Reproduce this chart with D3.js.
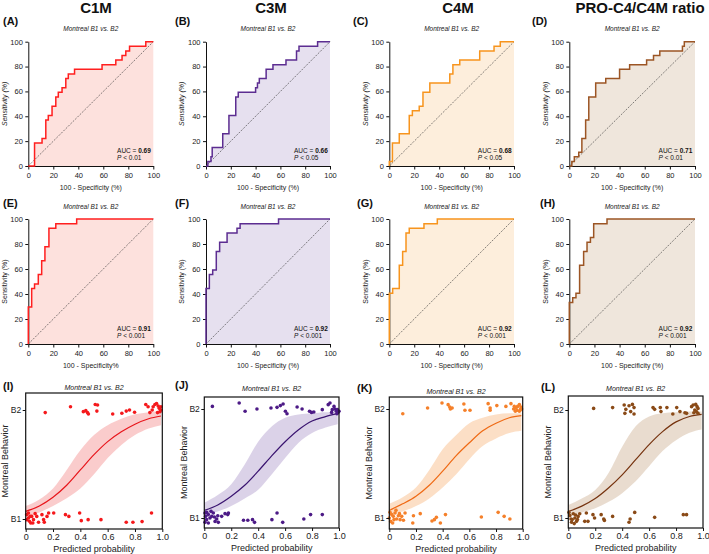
<!DOCTYPE html>
<html>
<head>
<meta charset="utf-8">
<script src="https://cdn.jsdelivr.net/npm/d3@7"></script>
<style>
  body { margin: 0; background: #fff; }
  svg { font-family: "Liberation Sans", Arial, sans-serif; }
</style>
</head>
<body>
<svg id="chart" width="709" height="554"></svg>
<script>
// ---- data ----
const markers = ["C1M", "C3M", "C4M", "PRO-C4/C4M ratio"];
const subtitle = "Montreal B1 vs. B2";
const sensTicks = [0, 20, 40, 60, 80, 100];
const probTicks = [0, 0.2, 0.4, 0.6, 0.8, 1.0];
const outcomeLabels = ["B1", "B2"];

// ROC, row 1 (step curves: at each fpr the sensitivity rises to tpr)
const fprA = [0, 5, 11, 14, 16, 19, 22, 24, 27, 30, 32, 37, 59, 70, 75, 78, 81, 94, 100];
const tprA = [0, 18.5, 22.2, 37, 40.7, 48.1, 55.6, 59.3, 63, 70.4, 74.1, 77.8, 81.5, 85.2, 88.9, 92.6, 96.3, 100, 100];
const fprB = [0, 1.5, 4, 5, 13.5, 18.5, 24, 26, 40, 41.5, 43, 48.5, 54, 64.5, 73, 75, 90, 100];
const tprB = [0, 3.7, 7.4, 14.8, 25.9, 40.7, 55.6, 59.3, 63, 66.7, 70.4, 77.8, 81.5, 85.2, 92.6, 96.3, 100, 100];
const fprC = [0, 0, 2.5, 8, 16, 18.5, 24, 27, 32.5, 48.5, 51, 56.5, 72.5, 84, 89, 100];
const tprC = [0, 3.7, 18.5, 25.9, 40.7, 44.4, 48.1, 59.3, 66.7, 74.1, 81.5, 85.2, 92.6, 96.3, 100, 100];
const fprD = [0, 2, 4, 7.5, 10, 13, 15.5, 21, 29, 40, 48, 61.5, 67, 72, 90, 91.5, 100];
const tprD = [0, 3.7, 7.4, 11.1, 22.2, 37, 55.6, 66.7, 70.4, 77.8, 81.5, 85.2, 88.9, 92.6, 96.3, 100, 100];

// ROC, row 2
const fprE = [0, 0, 2.7, 5, 8, 10.7, 13.3, 16.5, 22, 38.7, 100];
const tprE = [0, 29.6, 44.4, 48.1, 55.6, 66.7, 77.8, 92.6, 96.3, 100, 100];
const fprF = [0, 0, 2.7, 5.4, 8.3, 11, 17, 25, 27.5, 58.5, 100];
const tprF = [0, 44.4, 55.6, 59.3, 74.1, 81.5, 88.9, 92.6, 96.3, 100, 100];
const fprG = [0, 0, 2.7, 8, 10.7, 13.4, 16, 27.8, 38.5, 100];
const tprG = [0, 40.7, 44.4, 63, 74.1, 88.9, 92.6, 96.3, 100, 100];
const fprH = [0, 0, 2.7, 5.3, 8.2, 11.4, 14.1, 16.8, 19.4, 30, 100];
const tprH = [0, 33.3, 37, 40.7, 63, 74.1, 81.5, 85.2, 96.3, 100, 100];

const aucValues = ["0.69", "0.66", "0.68", "0.71", "0.91", "0.92", "0.92", "0.92"];
const pValues = ["< 0.01", "< 0.05", "< 0.05", "< 0.01", "< 0.001", "< 0.001", "< 0.001", "< 0.001"];

// logistic fits, row 3 (read at these probabilities)
const fitX = [0, 0.1, 0.2, 0.3, 0.4, 0.5, 0.6, 0.7, 0.8, 0.9, 0.99];
const fitI = [0.07, 0.12, 0.2, 0.31, 0.45, 0.59, 0.71, 0.80, 0.87, 0.92, 0.945];
const lowI = [0.02, 0.06, 0.12, 0.19, 0.28, 0.41, 0.56, 0.68, 0.77, 0.83, 0.86];
const highI = [0.12, 0.18, 0.28, 0.45, 0.63, 0.77, 0.86, 0.92, 0.96, 0.98, 0.99];
const fitJ = [0.07, 0.12, 0.2, 0.3, 0.43, 0.57, 0.70, 0.81, 0.89, 0.93, 0.96];
const lowJ = [0.03, 0.06, 0.11, 0.18, 0.26, 0.40, 0.55, 0.69, 0.78, 0.83, 0.86];
const highJ = [0.14, 0.21, 0.31, 0.49, 0.70, 0.84, 0.92, 0.95, 0.96, 0.97, 0.97];
const fitK = [0.07, 0.13, 0.2, 0.3, 0.43, 0.57, 0.69, 0.80, 0.87, 0.92, 0.94];
const lowK = [0.03, 0.06, 0.11, 0.18, 0.28, 0.40, 0.54, 0.66, 0.73, 0.78, 0.80];
const highK = [0.13, 0.19, 0.28, 0.44, 0.63, 0.76, 0.87, 0.92, 0.95, 0.96, 0.96];
const fitL = [0.06, 0.11, 0.18, 0.28, 0.40, 0.54, 0.68, 0.80, 0.89, 0.94, 0.96];
const lowL = [0.02, 0.05, 0.09, 0.15, 0.23, 0.34, 0.48, 0.62, 0.72, 0.79, 0.82];
const highL = [0.12, 0.18, 0.26, 0.42, 0.66, 0.85, 0.94, 0.97, 0.98, 0.985, 0.985];

// jittered patient points (x = predicted probability, y = outcome 0/1 + jitter)
const dotsIx = [0.143, 0.328, 0.422, 0.44, 0.452, 0.459, 0.509, 0.526, 0.521, 0.637, 0.704, 0.736, 0.76, 0.797, 0.879, 0.909, 0.926, 0.946, 0.958, 0.97, 0.978, 0.983, 0.965, 0.99, 0.933, 0.896, 0.99,
  0.007, 0.02, 0.027, 0.037, 0.007, 0.044, 0.057, 0.02, 0.069, 0.081, 0.052, 0.032, 0.094, 0.119, 0.131, 0.136, 0.156, 0.168, 0.205, 0.291, 0.316, 0.395, 0.407, 0.457, 0.551, 0.736, 0.785, 0.852, 0.921];
const dotsIy = [0.976, 1.03, 0.985, 0.994, 0.976, 0.963, 1.05, 1.046, 0.99, 0.963, 0.97, 0.99, 1.0, 0.98, 1.05, 0.976, 1.0, 1.05, 1.06, 1.036, 1.015, 0.985, 0.976, 1.03, 1.03, 1.03, 1.0,
  0.04, 0.009, -0.021, -0.037, -0.006, 0.024, -0.006, 0.055, 0.049, 0.024, -0.037, 0.024, -0.03, 0.04, -0.006, -0.03, 0.024, 0.055, 0.055, 0.04, 0.024, 0.055, -0.015, -0.006, -0.006, -0.03, -0.03, -0.024, 0.055];

const dotsJx = [0.06, 0.259, 0.303, 0.391, 0.495, 0.54, 0.565, 0.585, 0.602, 0.614, 0.689, 0.726, 0.781, 0.796, 0.813, 0.876, 0.92, 0.933, 0.95, 0.945, 0.97, 0.98, 0.988, 0.993, 0.985, 1.0, 0.963,
  0.005, 0.01, 0.017, 0.005, 0.03, 0.042, 0.055, 0.067, 0.08, 0.092, 0.03, 0.104, 0.05, 0.075, 0.129, 0.154, 0.174, 0.179, 0.291, 0.323, 0.358, 0.373, 0.502, 0.54, 0.582, 0.739, 0.789, 0.876, 0.1, 0.017];
const dotsJy = [1.024, 1.055, 0.979, 1.0, 1.009, 1.015, 1.031, 1.046, 0.979, 0.957, 1.018, 1.0, 0.979, 0.969, 0.972, 0.994, 1.04, 1.055, 0.994, 0.969, 1.0, 0.979, 0.994, 0.969, 0.957, 0.979, 1.024,
  0.046, 0.015, -0.015, -0.04, 0.031, 0, 0.015, 0.046, -0.031, -0.009, -0.046, -0.04, 0.061, 0.009, 0.015, 0.04, 0.031, 0.046, -0.021, -0.021, -0.015, -0.04, -0.015, 0.046, -0.04, -0.009, 0.031, 0.031, 0.021, 0.052];

const dotsKx = [0.101, 0.287, 0.395, 0.441, 0.453, 0.458, 0.471, 0.559, 0.567, 0.605, 0.741, 0.756, 0.756, 0.806, 0.874, 0.912, 0.932, 0.95, 0.962, 0.975, 0.982, 0.987, 0.975, 0.957, 0.937, 0.992, 0.945,
  0.005, 0.018, 0, 0.01, 0.03, 0.043, 0.055, 0.068, 0.081, 0.025, 0.076, 0.093, 0.106, 0.118, 0.181, 0.176, 0.232, 0.32, 0.338, 0.353, 0.383, 0.421, 0.69, 0.816, 0.861, 0.904, 0.05, 0.035];
const dotsKy = [0.957, 1.009, 1.055, 1.04, 1.018, 1.0, 1.009, 1.046, 0.988, 0.988, 1.049, 1.009, 0.988, 1.031, 1.024, 1.049, 1.0, 1.009, 1.024, 1.04, 0.994, 1.018, 0.979, 0.988, 1.024, 1.0, 0.979,
  0.052, 0.031, 0, -0.031, 0.015, 0.046, -0.009, 0.021, -0.015, -0.046, 0.04, 0.015, -0.021, 0.046, 0.021, -0.046, 0.04, -0.028, -0.015, 0.006, -0.046, 0.031, 0.009, 0.052, 0.015, -0.009, 0.07, -0.015];

const dotsLx = [0.188, 0.329, 0.415, 0.42, 0.427, 0.451, 0.476, 0.488, 0.463, 0.488, 0.629, 0.641, 0.683, 0.688, 0.732, 0.776, 0.805, 0.829, 0.866, 0.878, 0.915, 0.927, 0.946, 0.956, 0.939, 0.951, 0.963, 0.932, 0.963,
  0.005, 0.012, 0.02, 0.024, 0.037, 0.049, 0.061, 0.044, 0.073, 0.068, 0.085, 0.122, 0.146, 0.134, 0.183, 0.195, 0.244, 0.263, 0.268, 0.329, 0.451, 0.459, 0.493, 0.641, 0.854, 0.878, 0.029, 0.054];
const dotsLy = [1.015, 1.022, 1.046, 0.969, 1.006, 1.04, 1.052, 1.022, 0.985, 0.963, 1.022, 1.006, 1.022, 0.985, 1.022, 0.963, 1.022, 0.985, 0.975, 0.969, 1.031, 1.046, 1.052, 1.031, 1.0, 0.985, 0.969, 0.975, 1.015,
  0.052, 0.022, -0.009, -0.04, 0.04, 0, -0.031, -0.052, 0.015, -0.015, 0.04, -0.031, -0.031, 0.046, 0.031, 0, 0.031, -0.009, -0.022, 0.015, -0.04, -0.009, 0.052, 0.006, 0.031, 0.031, -0.015, 0.028];

// ---- styling ----
const lineColors = ["#ff1f1f", "#5c2d91", "#f7941d", "#9c5524"];
const rocFills = ["#fde1dd", "#e6e0ef", "#fdeedc", "#efe6dc"];
const dotColors = ["#f5191c", "#4c1a86", "#f5802a", "#8a4a17"];
const fitColors = ["#e8151b", "#3a1470", "#ef6a15", "#76330f"];
const bandColors = ["#f9c6c6", "#d7cde6", "#fcdcc0", "#e7d8ca"];

const svg = d3.select("#chart");

// column geometry
const rocCols = [[28.3, 153.3], [206, 330], [389.3, 514], [569.3, 695]];
const rocRows = [
  { top: 41.7, bottom: 166, letterY: 25, subY: 31, italicY: true },
  { top: 219, bottom: 344, letterY: 207, subY: 208.5, italicY: false }
];
const letterX = [[3, 175, 353, 532], [3, 175, 357, 540], [3, 175, 357, 541]];
const rocLetters = [["(A)", "(B)", "(C)", "(D)"], ["(E)", "(F)", "(G)", "(H)"]];
const rocXLabels = [
  ["100 - Specificity (%)", "100 - Specificity (%)", "100 - Specificity (%)", "100 - Specificity (%)"],
  ["100 - Specificity%", "100 - Specificity (%)", "100 - Specificity (%)", "100 - Specificity (%)"]
];
const rocData = [
  [[fprA, tprA], [fprB, tprB], [fprC, tprC], [fprD, tprD]],
  [[fprE, tprE], [fprF, tprF], [fprG, tprG], [fprH, tprH]]
];

// column titles
const titleX = [96, 271, 458, 640];
markers.forEach((m, i) => {
  svg.append("text").attr("x", titleX[i]).attr("y", 12.5)
    .attr("text-anchor", "middle").attr("font-size", 15).attr("font-weight", "bold")
    .attr("fill", "#111").text(m);
});

function styleAxis(g, size) {
  g.select(".domain").attr("stroke", "#111").attr("stroke-width", 1);
  g.selectAll(".tick line").attr("stroke", "#111").attr("stroke-width", 1);
  g.selectAll(".tick text").attr("fill", "#222").attr("font-size", size);
}

function drawRoc(r, c) {
  const row = rocRows[r];
  const [x0, x1] = rocCols[c];
  const [fpr, tpr] = rocData[r][c];
  const pts = fpr.map((f, i) => [f, tpr[i]]);
  const g = svg.append("g");

  const x = d3.scaleLinear().domain([0, 100]).range([x0, x1]);
  const y = d3.scaleLinear().domain([0, 100]).range([row.bottom, row.top]);

  g.append("path").datum(pts)
    .attr("fill", rocFills[c])
    .attr("d", d3.area().curve(d3.curveStepAfter).x(d => x(d[0])).y0(y(0)).y1(d => y(d[1])));

  g.append("line")
    .attr("x1", x(0)).attr("y1", y(0)).attr("x2", x(100)).attr("y2", y(100))
    .attr("stroke", "#333").attr("stroke-width", 0.6).attr("stroke-dasharray", "2,1.3");

  const gx = g.append("g").attr("transform", `translate(0,${row.bottom})`)
    .call(d3.axisBottom(x).tickValues(sensTicks).tickSize(3.5).tickPadding(3.5).tickSizeOuter(0));
  styleAxis(gx, 7.5);
  const gy = g.append("g").attr("transform", `translate(${x0},0)`)
    .call(d3.axisLeft(y).tickValues(sensTicks).tickSize(3).tickPadding(2.5).tickSizeOuter(0));
  styleAxis(gy, 7.5);

  g.append("path").datum(pts)
    .attr("fill", "none").attr("stroke", lineColors[c]).attr("stroke-width", 1.5)
    .attr("stroke-linejoin", "miter")
    .attr("d", d3.line().curve(d3.curveStepAfter).x(d => x(d[0])).y(d => y(d[1])));

  // labels
  g.append("text").attr("x", letterX[r][c]).attr("y", row.letterY)
    .attr("font-size", 11).attr("font-weight", "bold").attr("fill", "#111").text(rocLetters[r][c]);
  g.append("text").attr("x", (x0 + x1) / 2).attr("y", row.subY)
    .attr("text-anchor", "middle").attr("font-size", 6.5).attr("font-style", "italic")
    .attr("fill", "#222").text(subtitle);
  g.append("text").attr("x", (x0 + x1) / 2).attr("y", row.bottom + 23.5)
    .attr("text-anchor", "middle").attr("font-size", 7).attr("fill", "#222").text(rocXLabels[r][c]);
  g.append("text")
    .attr("transform", `translate(${x0 - 24},${(row.top + row.bottom) / 2}) rotate(-90)`)
    .attr("dy", "0.35em").attr("text-anchor", "middle").attr("font-size", 7)
    .attr("font-style", row.italicY ? "italic" : "normal")
    .attr("fill", "#222").text("Sensitivity (%)");

  const k = r * 4 + c;
  const auc = g.append("text").attr("x", x(71)).attr("y", row.bottom - 13)
    .attr("font-size", 6.5).attr("fill", "#111");
  auc.append("tspan").text("AUC = ");
  auc.append("tspan").attr("font-weight", "bold").text(aucValues[k]);
  const p = g.append("text").attr("x", x(71)).attr("y", row.bottom - 6)
    .attr("font-size", 6.5).attr("fill", "#111");
  p.append("tspan").attr("font-style", "italic").text("P");
  p.append("tspan").text(" " + pValues[k]);
}

for (let r = 0; r < 2; r++) for (let c = 0; c < 4; c++) drawRoc(r, c);

// ---- row 3: logistic fits ----
const fitBoxes = [
  { x0: 25.7, x1: 162.3, top: 393, bottom: 529, b1: 519, b2: 410, letterY: 390, subY: 390 },
  { x0: 204.3, x1: 339, top: 397, bottom: 528, b1: 518, b2: 409, letterY: 389, subY: 390.5 },
  { x0: 389.3, x1: 522.7, top: 397, bottom: 529, b1: 518, b2: 409, letterY: 392, subY: 393.5 },
  { x0: 568.3, x1: 703, top: 396, bottom: 528, b1: 518, b2: 410, letterY: 391, subY: 391 }
];
const fitLetters = ["(I)", "(J)", "(K)", "(L)"];
const fitSeries = [[fitI, lowI, highI], [fitJ, lowJ, highJ], [fitK, lowK, highK], [fitL, lowL, highL]];
const dotSeries = [[dotsIx, dotsIy], [dotsJx, dotsJy], [dotsKx, dotsKy], [dotsLx, dotsLy]];

fitBoxes.forEach((b, c) => {
  const g = svg.append("g");
  const x = d3.scaleLinear().domain([0, 1]).range([b.x0, b.x1]);
  const y = d3.scaleLinear().domain([0, 1]).range([b.b1, b.b2]);
  const [fit, low, high] = fitSeries[c];
  const band = fitX.map((v, i) => ({ x: v, lo: low[i], hi: high[i], m: fit[i] }));

  g.append("path").datum(band)
    .attr("fill", bandColors[c]).attr("opacity", 0.9)
    .attr("d", d3.area().curve(d3.curveMonotoneX).x(d => x(d.x)).y0(d => y(d.lo)).y1(d => y(d.hi)));
  g.append("path").datum(band)
    .attr("fill", "none").attr("stroke", fitColors[c]).attr("stroke-width", 1.2)
    .attr("d", d3.line().curve(d3.curveMonotoneX).x(d => x(d.x)).y(d => y(d.m)));

  const [dx, dy] = dotSeries[c];
  g.selectAll("circle.pt").data(dx.map((v, i) => [v, dy[i]])).join("circle")
    .attr("class", "pt").attr("cx", d => x(d[0])).attr("cy", d => y(d[1]))
    .attr("r", 1.8).attr("fill", dotColors[c]);

  g.append("rect").attr("x", b.x0).attr("y", b.top)
    .attr("width", b.x1 - b.x0).attr("height", b.bottom - b.top)
    .attr("fill", "none").attr("stroke", "#111").attr("stroke-width", 1.2);

  const gx = g.append("g").attr("transform", `translate(0,${b.bottom})`)
    .call(d3.axisBottom(x).tickValues(probTicks).tickSize(3).tickPadding(2)
      .tickFormat(d => d === 0 ? "0" : d.toFixed(1)).tickSizeOuter(0));
  styleAxis(gx, 9);
  gx.select(".domain").remove();
  const gy = g.append("g").attr("transform", `translate(${b.x0},0)`)
    .call(d3.axisLeft(y).tickValues([0, 1]).tickSize(3).tickPadding(1.5)
      .tickFormat((d, i) => outcomeLabels[i]).tickSizeOuter(0));
  styleAxis(gy, 8.5);
  gy.select(".domain").remove();

  g.append("text").attr("x", letterX[2][c]).attr("y", b.letterY)
    .attr("font-size", 11).attr("font-weight", "bold").attr("fill", "#111").text(fitLetters[c]);
  g.append("text").attr("x", (b.x0 + b.x1) / 2).attr("y", b.subY)
    .attr("text-anchor", "middle").attr("font-size", 7).attr("font-style", "italic")
    .attr("fill", "#222").text(subtitle);
  g.append("text").attr("x", (b.x0 + b.x1) / 2).attr("y", b.bottom + 23)
    .attr("text-anchor", "middle").attr("font-size", 9).attr("fill", "#222").text("Predicted probability");
  g.append("text")
    .attr("transform", `translate(${b.x0 - 20.5},${(b.top + b.bottom) / 2}) rotate(-90)`)
    .attr("dy", "0.35em").attr("text-anchor", "middle").attr("font-size", 9)
    .attr("fill", "#222").text("Montreal Behavior");
});
</script>
</body>
</html>
